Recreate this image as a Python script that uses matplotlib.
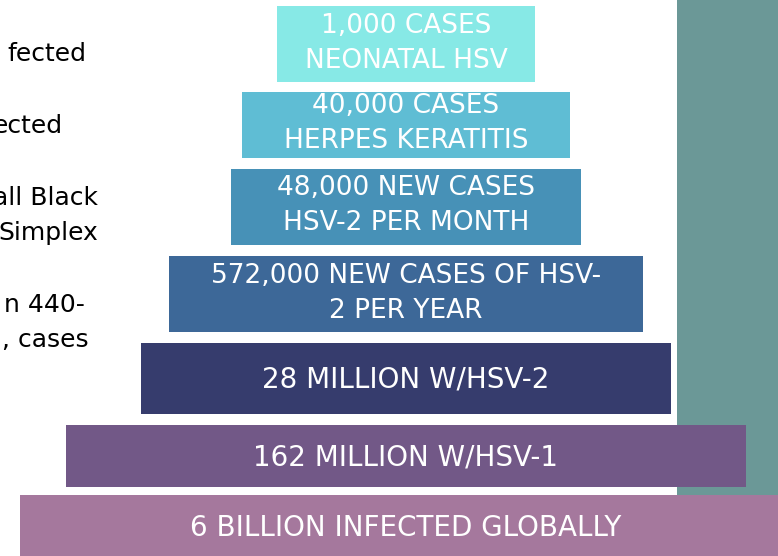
import matplotlib
matplotlib.use("Agg")
import matplotlib.pyplot as plt

# text in the bars, top to bottom
bar_labels = [
    "1,000 CASES\nNEONATAL HSV",
    "40,000 CASES\nHERPES KERATITIS",
    "48,000 NEW CASES\nHSV-2 PER MONTH",
    "572,000 NEW CASES OF HSV-\n2 PER YEAR",
    "28 MILLION W/HSV-2",
    "162 MILLION W/HSV-1",
    "6 BILLION INFECTED GLOBALLY",
]
# cut-off notes on the left side
side_notes = ["fected", "ected", "all Black", "Simplex", "n 440-", ", cases"]

# layout (pixel coords)
bar_widths = [258, 328, 350, 474, 530, 680, 772]
bar_tops = [6, 92, 169, 256, 343, 425, 495]
bar_heights = [76, 66, 76, 76, 71, 62, 64]
bar_colors = ["#87e9e6", "#5fbdd4", "#4791b7", "#3d6898", "#363c6d", "#725887", "#a5789d"]
note_x = [86, 63, 98, 98, 85, 89]
note_y = [61, 133, 205, 240, 312, 347]
cx = 406

fig = plt.figure(figsize=(7.78, 5.56), dpi=100)
ax = fig.add_axes([0, 0, 1, 1])
ax.set_xlim(0, 778)
ax.set_ylim(556, 0)
ax.axis('off')

# teal band on the right
ax.barh(247.5, 120, left=677, height=495, color="#6b9897", zorder=1)

for lab, w, t, h, c in zip(bar_labels, bar_widths, bar_tops, bar_heights, bar_colors):
    yc = t + h / 2
    two = "\n" in lab
    ax.barh(yc, w, left=cx - w / 2, height=h, color=c, zorder=2)
    ax.text(cx, yc - 1 if two else yc + 1, lab, ha="center", va="center", color="white",
            fontsize=19 if two else 20, family="DejaVu Sans", linespacing=1.45, zorder=3)

for s, x, y in zip(side_notes, note_x, note_y):
    ax.text(x, y, s, ha="right", va="baseline", color="black", fontsize=18,
            family="DejaVu Sans", zorder=3)

fig.savefig("out.png", dpi=100)
